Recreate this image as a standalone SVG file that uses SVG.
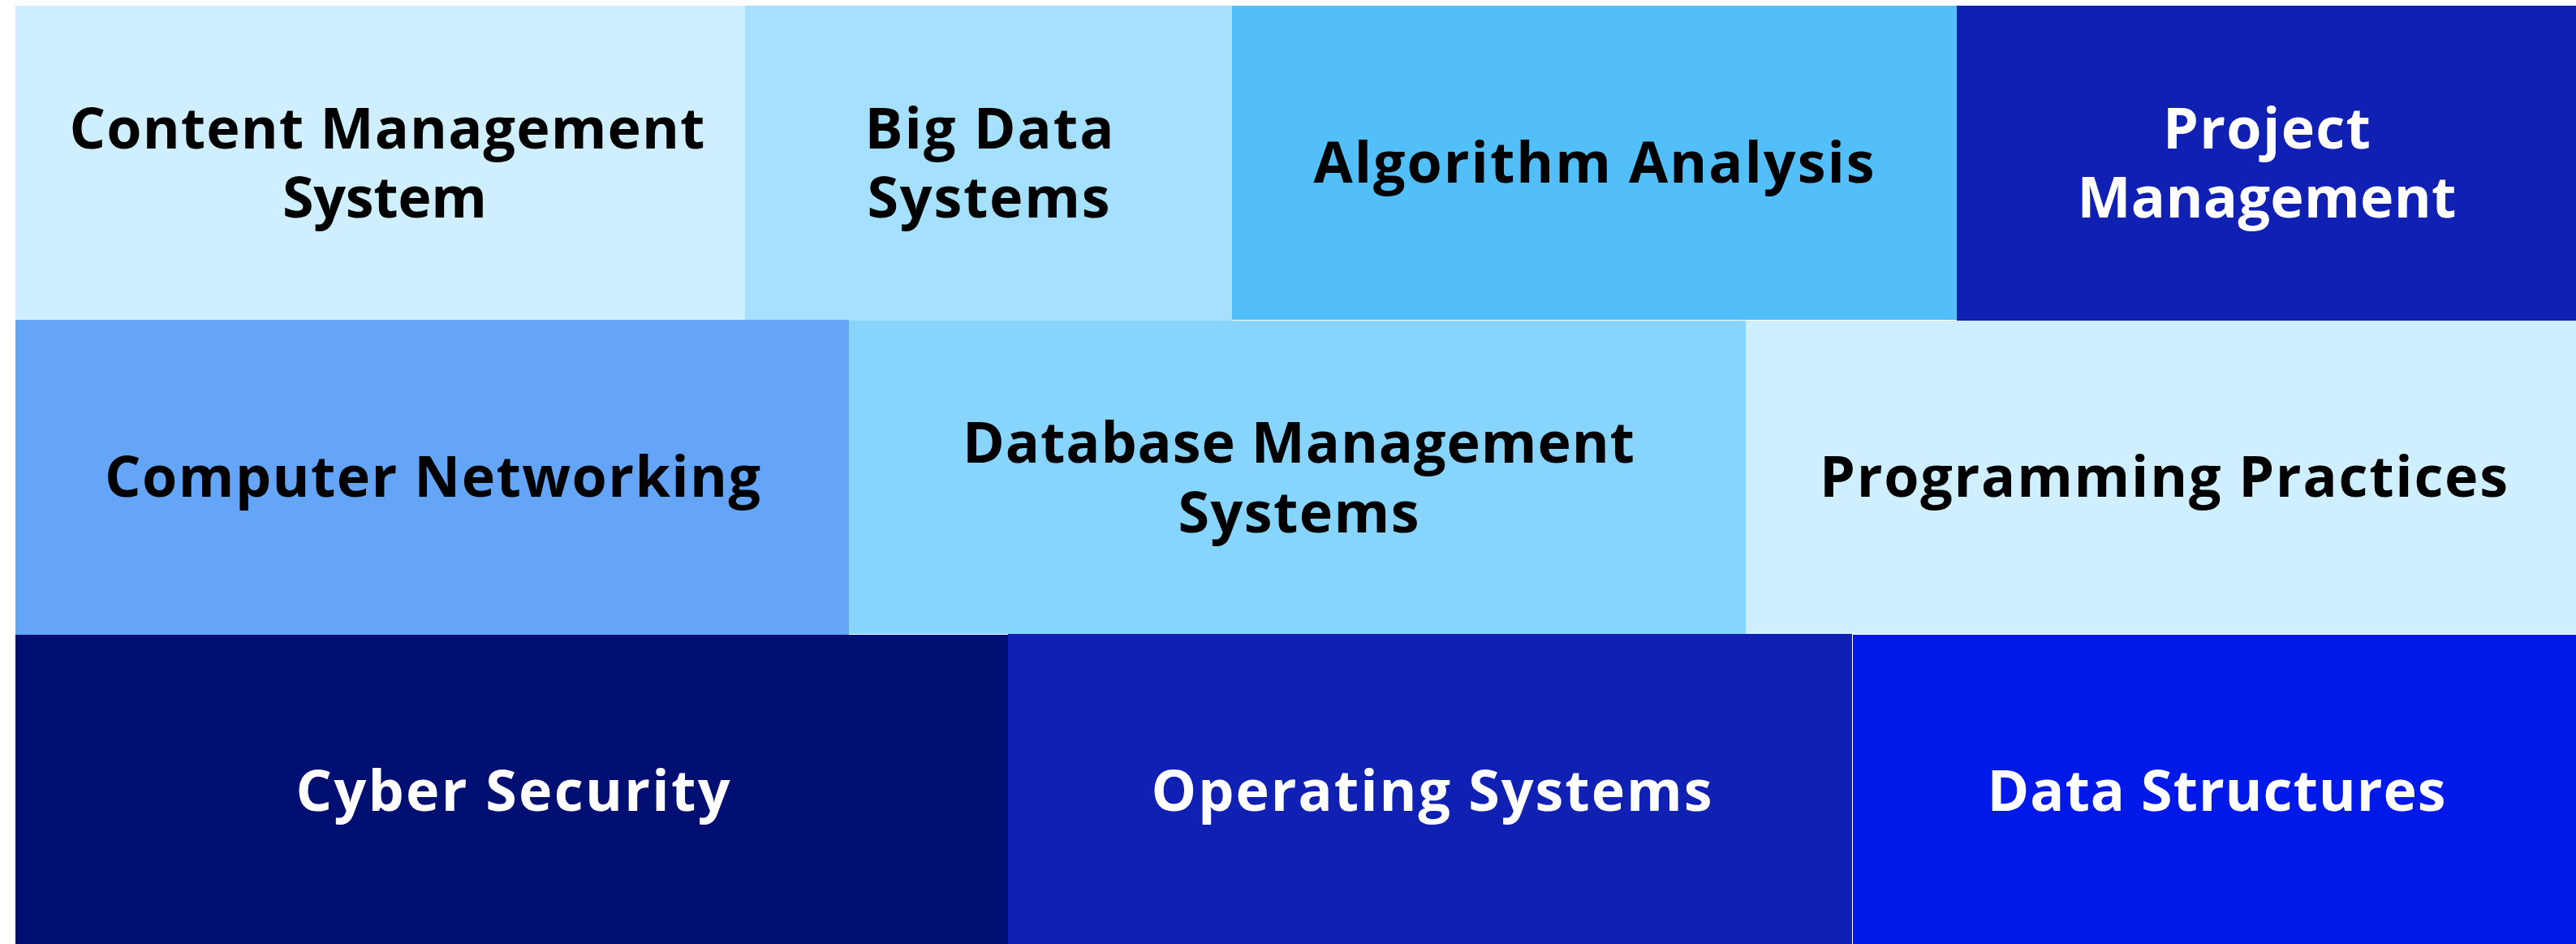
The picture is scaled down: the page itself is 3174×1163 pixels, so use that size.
<svg xmlns="http://www.w3.org/2000/svg" width="3174" height="1163" viewBox="0 0 3174 1163">
<style>
.t{font-family:"Open Sans","Liberation Sans",sans-serif;font-weight:700;font-size:70px;text-anchor:middle}
.d{fill:#000000}
.w{fill:#ffffff}
</style>
<rect x="0" y="0" width="3174" height="1163" fill="#ffffff"/>
<g id="content-management-system">
<rect x="19" y="7" width="899" height="387" fill="#CFEEFE"/>
<text class="t d" x="477" y="183" textLength="783" lengthAdjust="spacing">Content Management</text>
<text class="t d" x="474" y="268" textLength="252" lengthAdjust="spacing">System</text>
</g>
<g id="big-data-systems">
<rect x="918" y="7" width="600" height="388" fill="#A5E0FD"/>
<text class="t d" x="1219" y="183" textLength="307" lengthAdjust="spacing">Big Data</text>
<text class="t d" x="1218" y="268" textLength="299" lengthAdjust="spacing">Systems</text>
</g>
<g id="algorithm-analysis">
<rect x="1518" y="7" width="893" height="387" fill="#52BFF9"/>
<text class="t d" x="1964" y="225" textLength="691" lengthAdjust="spacing">Algorithm Analysis</text>
</g>
<g id="project-management">
<rect x="2411" y="7" width="763" height="388" fill="#0F20B3"/>
<text class="t w" x="2793" y="183" textLength="256" lengthAdjust="spacing">Project</text>
<text class="t w" x="2793" y="268" textLength="467" lengthAdjust="spacing">Management</text>
</g>
<g id="computer-networking">
<rect x="19" y="394" width="1027" height="388" fill="#65A5F8"/>
<text class="t d" x="533" y="612" textLength="808" lengthAdjust="spacing">Computer Networking</text>
</g>
<g id="database-management-systems">
<rect x="1046" y="395" width="1105" height="386" fill="#87D4FD"/>
<text class="t d" x="1600" y="570" textLength="828" lengthAdjust="spacing">Database Management</text>
<text class="t d" x="1600" y="656" textLength="297" lengthAdjust="spacing">Systems</text>
</g>
<g id="programming-practices">
<rect x="2151" y="395" width="1023" height="386" fill="#CFEEFE"/>
<text class="t d" x="2666" y="612" textLength="848" lengthAdjust="spacing">Programming Practices</text>
</g>
<g id="cyber-security">
<rect x="19" y="782" width="1223" height="381" fill="#010E72"/>
<text class="t w" x="632" y="999" textLength="535" lengthAdjust="spacing">Cyber Security</text>
</g>
<g id="operating-systems">
<rect x="1242" y="781" width="1040" height="382" fill="#0F20B3"/>
<text class="t w" x="1764" y="999" textLength="691" lengthAdjust="spacing">Operating Systems</text>
</g>
<g id="data-structures">
<rect x="2283" y="782" width="891" height="381" fill="#0019E8"/>
<text class="t w" x="2731" y="999" textLength="565" lengthAdjust="spacing">Data Structures</text>
</g>
<g id="connectors"></g>
</svg>
